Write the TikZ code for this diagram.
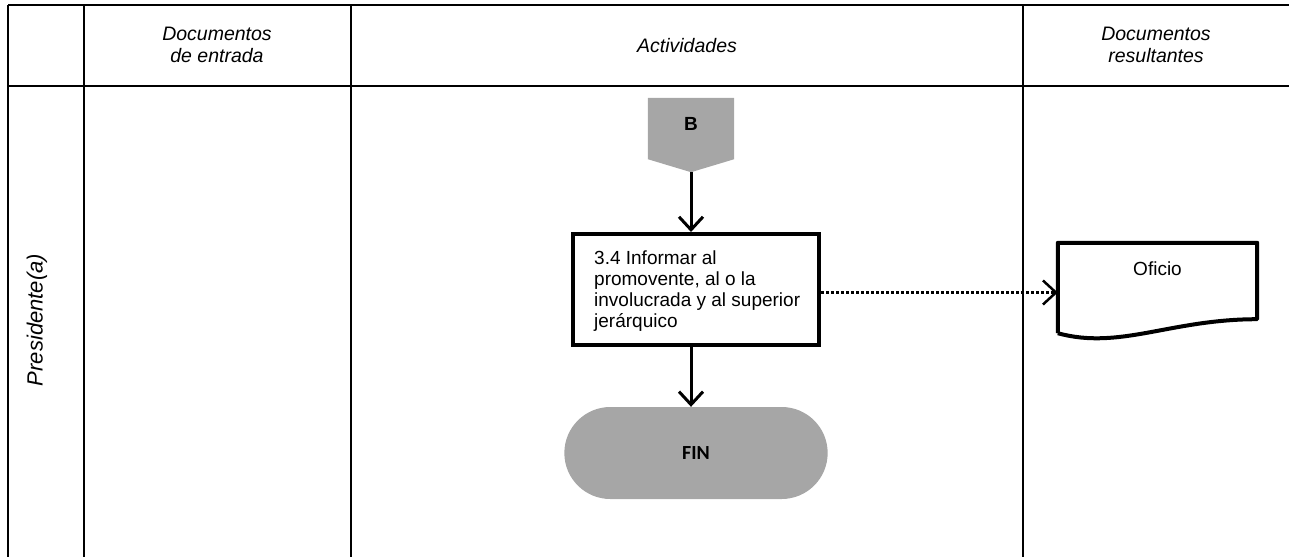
\documentclass[tikz,border=0pt]{standalone}
\usepackage{fontspec}
\setmainfont{Liberation Sans}
\newfontfamily\carlito{Carlito}
\usetikzlibrary{positioning,arrows.meta,shapes.misc,calc}
\definecolor{grayfill}{HTML}{A6A6A6}

\begin{document}
\begin{tikzpicture}[x=1pt,y=-1pt,
  every node/.style={align=center,font=\fontsize{19}{21}\selectfont},
  lane/.style={line width=2pt},
  head/.style={font=\fontsize{19.5}{22}\selectfont\itshape},
  flow/.style={line width=3pt,-{Straight Barb[length=13pt,width=24pt]}},
  act/.style={draw,line width=4pt,minimum width=246pt,minimum height=111pt,inner sep=0},
  term/.style={rounded rectangle,fill=grayfill,minimum width=270pt,minimum height=92pt}]

\useasboundingbox (0,0) rectangle (1289,557);

% table
\draw[lane] (8,5) -- (1289,5);
\draw[lane] (8,86) -- (1289,86);
\foreach \x in {8,84,351,1023}
  \draw[lane] (\x,5) -- (\x,557);

\node[head] (hin) at (217,45) {Documentos\\de entrada};
\node[head] (hact) at (687,46) {Actividades};
\node[head] (hout) at (1156,45) {Documentos\\resultantes};
\node[head,font=\fontsize{22}{24}\selectfont\itshape,rotate=90] (pres) at (37,320) {Presidente(a)};

% connector B
\node[minimum width=86pt,minimum height=61pt,inner sep=0] (B) at (691,128.5) {};
\fill[grayfill] (B.north west) -- (B.north east) -- (B.south east) -- ([yshift=-13pt]B.south) -- (B.south west) -- cycle;
\coordinate (Btip) at ([yshift=-13pt]B.south);
\node[font=\fontsize{19}{22}\selectfont\bfseries] (Btxt) at ([yshift=5pt]B.center) {B};

% activity
\node[act] (act34) at (696,289.5) {};
\node[anchor=west,align=left,inner sep=0] (act34txt) at ([xshift=23pt,yshift=-2pt]act34.west) {3.4 Informar al\\promovente, al o la\\involucrada y al superior\\jerárquico};
\node[term] (fin) at (696,453) {\carlito\fontsize{20}{22}\selectfont\bfseries FIN};

% document
\node[minimum width=199pt,minimum height=90pt,inner sep=0] (doc) at (1157.5,288) {};
\node (oficio) at ([yshift=-26pt]doc.north) {Oficio};
\draw[line width=4pt,line join=round] (doc.south west) -- (doc.north west) -- (doc.north east) -- ([yshift=14pt]doc.south east)
  .. controls +(-87,0) and +(62,17) .. (doc.south west);

% arrows
\draw[flow] (Btip) -- (Btip |- act34.north);
\draw[flow] (act34.south -| Btip) -- (fin.north -| Btip);
\draw[flow,line width=2.5pt,dash pattern=on 2.5pt off 2.5pt] ([yshift=-3pt]act34.east) -- ([yshift=-3pt]act34.east -| doc.west);

\end{tikzpicture}
\end{document}
